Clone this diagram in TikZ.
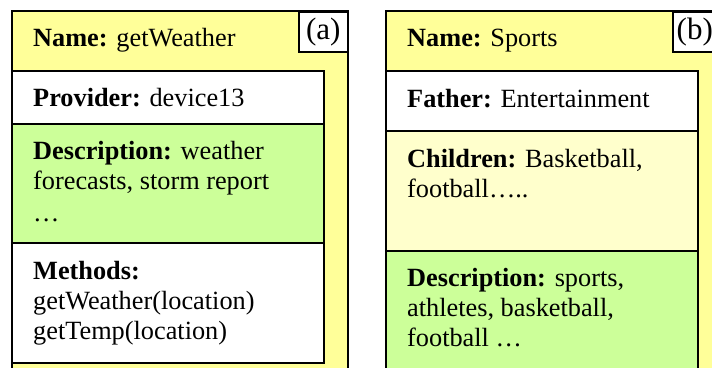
\documentclass[tikz,border=0pt]{standalone}
\usepackage{fontspec}
\setmainfont{Liberation Serif}
\definecolor{yel}{HTML}{FFFF99}
\definecolor{lyel}{HTML}{FFFFCC}
\definecolor{grn}{HTML}{CCFF99}
\begin{document}
\begin{tikzpicture}[x=1bp,y=-1bp,
  panel/.style={draw=black, line width=1.5bp, fill=yel, rectangle, anchor=north west, inner sep=0pt, outer sep=0pt},
  cell/.style={draw=black, line width=2bp, rectangle, anchor=north west, inner sep=0pt, outer sep=0pt, minimum width=312bp},
  txt/.style={anchor=base west, inner sep=0pt, font=\fontsize{26.3bp}{30bp}\selectfont},
  tag/.style={draw=black, line width=1.5bp, fill=white, rectangle, anchor=north west, inner sep=0pt, minimum height=40bp, font=\fontsize{31bp}{34bp}\selectfont}]
\useasboundingbox (0,0) rectangle (712,367);
\clip (0,0) rectangle (712,367);
% panel (a)
\node[panel, minimum width=336bp, minimum height=380bp] (pa) at (12,11) {};
\node[cell, fill=white, minimum height=53bp] (prov) at (12,71) {};
\node[cell, fill=grn, minimum height=119bp] (desca) at (12,124) {};
\node[cell, fill=white, minimum height=120bp] (meth) at (12,243) {};
\node[tag, minimum width=49bp] (taga) at (298,11) {(a)};
\node[txt] (namea) at (33,46) {\textbf{Name:} getWeather};
\node[txt] (provt) at (33,106) {\textbf{Provider:} device13};
\node[txt] (desca1) at (33,159) {\textbf{Description:} weather};
\node[txt] (desca2) at (33,189) {forecasts, storm report};
\node[txt] (desca3) at (33,221) {…};
\node[txt] (meth1) at (33,279) {\textbf{Methods:}};
\node[txt] (meth2) at (33,309) {getWeather(location)};
\node[txt] (meth3) at (33,339) {getTemp(location)};
% panel (b)
\node[panel, minimum width=350bp, minimum height=380bp] (pb) at (386,11) {};
\node[cell, fill=white, minimum height=60bp] (fath) at (386,71) {};
\node[cell, fill=lyel, minimum height=120bp] (chil) at (386,131) {};
\node[cell, fill=grn, minimum height=130bp] (descb) at (386,251) {};
\node[tag, minimum width=44bp] (tagb) at (672,11) {(b)};
\node[txt] (nameb) at (407,46) {\textbf{Name:} Sports};
\node[txt] (fatht) at (407,107) {\textbf{Father:} Entertainment};
\node[txt] (chil1) at (407,167) {\textbf{Children:} Basketball,};
\node[txt] (chil2) at (407,197) {football…..};
\node[txt] (descb1) at (407,286) {\textbf{Description:} sports,};
\node[txt] (descb2) at (407,316) {athletes, basketball,};
\node[txt] (descb3) at (407,346) {football …};
\end{tikzpicture}
\end{document}
